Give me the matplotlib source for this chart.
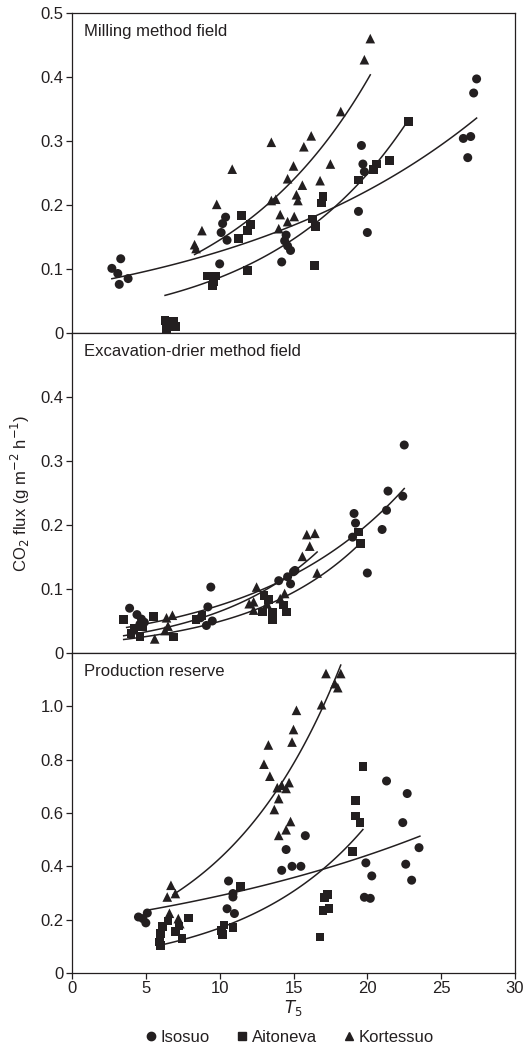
import numpy as np
import matplotlib
matplotlib.use("Agg")
import matplotlib.pyplot as plt
from matplotlib.lines import Line2D

plt.rcParams['font.family'] = ['Liberation Sans', 'DejaVu Sans']
ink = '#231f20'

# --- milling method field ---
mill_iso_t = [2.7, 3.3, 3.1, 3.2, 3.8, 10.4, 10.2, 10.1, 10.5, 10.0, 14.5, 14.4, 14.6, 14.8, 14.2,
              19.6, 19.7, 19.8, 19.4, 20.0, 27.4, 27.2, 26.5, 27.0, 26.8]
mill_iso_f = [0.101, 0.116, 0.093, 0.076, 0.085, 0.181, 0.171, 0.157, 0.145, 0.108, 0.153, 0.144, 0.136, 0.129, 0.111,
              0.293, 0.264, 0.252, 0.190, 0.157, 0.397, 0.375, 0.304, 0.307, 0.274]
mill_ait_t = [6.3, 6.9, 7.0, 6.4, 9.2, 9.7, 9.5, 9.6, 11.5, 12.1, 11.9, 11.3, 11.9, 17.0, 16.9, 16.3, 16.5, 16.4,
              19.4, 20.4, 20.6, 21.5, 22.8]
mill_ait_f = [0.020, 0.018, 0.010, 0.006, 0.089, 0.089, 0.074, 0.080, 0.184, 0.170, 0.160, 0.148, 0.098, 0.213, 0.203,
              0.178, 0.166, 0.106, 0.239, 0.255, 0.264, 0.269, 0.330]
mill_kor_t = [8.3, 8.4, 8.8, 9.8, 10.85, 13.5, 13.5, 13.8, 14.0, 14.1, 14.6, 14.6, 15.0, 15.05, 15.2, 15.3, 15.6,
              15.7, 16.2, 16.8, 17.5, 18.2, 19.8, 20.2]
mill_kor_f = [0.138, 0.132, 0.160, 0.201, 0.256, 0.298, 0.207, 0.209, 0.163, 0.185, 0.241, 0.174, 0.261, 0.182, 0.216,
              0.207, 0.231, 0.291, 0.308, 0.238, 0.264, 0.346, 0.427, 0.460]

# --- excavation-drier method field ---
exc_iso_t = [3.9, 4.4, 4.7, 4.9, 4.6, 8.7, 9.1, 9.2, 9.4, 9.5, 14.0, 14.6, 14.8, 15.0, 15.1, 19.0, 19.1, 19.2,
             20.0, 21.0, 21.3, 21.4, 22.4, 22.5]
exc_iso_f = [0.070, 0.060, 0.053, 0.048, 0.045, 0.055, 0.043, 0.072, 0.103, 0.050, 0.113, 0.119, 0.108, 0.127, 0.129,
             0.181, 0.218, 0.203, 0.125, 0.193, 0.223, 0.253, 0.245, 0.325]
exc_ait_t = [3.5, 4.0, 4.2, 4.6, 4.8, 5.5, 6.9, 8.4, 8.8, 12.9, 13.0, 13.3, 13.6, 13.6, 14.3, 14.5, 19.4, 19.55]
exc_ait_f = [0.052, 0.030, 0.038, 0.026, 0.041, 0.057, 0.025, 0.052, 0.058, 0.064, 0.090, 0.083, 0.064, 0.052,
             0.075, 0.064, 0.189, 0.171]
exc_kor_t = [5.6, 6.3, 6.5, 6.4, 6.8, 12.0, 12.3, 12.3, 12.5, 13.2, 14.1, 14.4, 15.6, 15.9, 16.1, 16.45, 16.6]
exc_kor_f = [0.022, 0.035, 0.042, 0.055, 0.059, 0.077, 0.067, 0.080, 0.103, 0.077, 0.085, 0.093, 0.151, 0.185,
             0.167, 0.187, 0.125]

# --- production reserve ---
prod_iso_t = [4.5, 4.8, 5.1, 5.0, 10.6, 10.9, 10.9, 10.5, 11.0, 14.2, 14.5, 14.9, 15.5, 15.8, 19.9, 20.3, 19.8,
              20.2, 21.3, 22.7, 22.4, 22.6, 23.0, 23.5]
prod_iso_f = [0.210, 0.204, 0.225, 0.188, 0.345, 0.298, 0.285, 0.241, 0.223, 0.385, 0.463, 0.400, 0.400, 0.515,
              0.413, 0.364, 0.284, 0.280, 0.720, 0.673, 0.564, 0.408, 0.348, 0.470]
prod_ait_t = [5.9, 6.0, 6.0, 6.15, 6.5, 7.0, 7.25, 7.45, 7.9, 10.1, 10.2, 10.3, 10.9, 11.4, 16.8, 17.0, 17.1, 17.3,
              17.4, 19.0, 19.2, 19.5, 19.2, 19.7]
prod_ait_f = [0.116, 0.104, 0.148, 0.173, 0.195, 0.157, 0.176, 0.129, 0.206, 0.158, 0.145, 0.180, 0.172, 0.325,
              0.135, 0.233, 0.283, 0.295, 0.241, 0.456, 0.589, 0.564, 0.648, 0.775]
prod_kor_t = [6.7, 6.45, 7.0, 6.6, 7.2, 7.3, 13.0, 13.3, 13.4, 13.7, 13.9, 14.0, 14.0, 14.2, 14.5, 14.5, 14.7, 14.8,
              14.9, 15.0, 15.2, 16.9, 17.2, 17.8, 18.0, 18.2]
prod_kor_f = [0.329, 0.285, 0.298, 0.224, 0.204, 0.185, 0.783, 0.855, 0.738, 0.613, 0.695, 0.654, 0.516, 0.704,
              0.692, 0.537, 0.714, 0.568, 0.866, 0.913, 0.985, 1.006, 1.123, 1.085, 1.070, 1.123]

# exponential fits: flux = a*exp(b*T), drawn over [t0, t1]
mill_fits = [(0.073, 0.0557, 2.7, 27.4), (0.0303, 0.1052, 6.3, 22.6), (0.0534, 0.1001, 8.3, 20.2)]
exc_fits = [(0.0277, 0.099, 3.7, 22.5), (0.01334, 0.1308, 3.5, 19.5), (0.01684, 0.1348, 3.5, 16.6)]
prod_fits = [(0.190, 0.04217, 5.0, 23.56), (0.0510, 0.1196, 5.96, 19.7), (0.1286, 0.1206, 6.86, 18.2)]

sites = ['Isosuo', 'Aitoneva', 'Kortessuo']
markers = ['o', 's', '^']
msize = [42, 40, 48]

panels = [
    ('Milling method field', [(mill_iso_t, mill_iso_f), (mill_ait_t, mill_ait_f), (mill_kor_t, mill_kor_f)],
     mill_fits, 0.5, [0, 0.1, 0.2, 0.3, 0.4, 0.5], ['0', '0.1', '0.2', '0.3', '0.4', '0.5']),
    ('Excavation-drier method field', [(exc_iso_t, exc_iso_f), (exc_ait_t, exc_ait_f), (exc_kor_t, exc_kor_f)],
     exc_fits, 0.5, [0, 0.1, 0.2, 0.3, 0.4], ['0', '0.1', '0.2', '0.3', '0.4']),
    ('Production reserve', [(prod_iso_t, prod_iso_f), (prod_ait_t, prod_ait_f), (prod_kor_t, prod_kor_f)],
     prod_fits, 1.2, [0, 0.2, 0.4, 0.6, 0.8, 1.0], ['0', '0.2', '0.4', '0.6', '0.8', '1.0']),
]

fig = plt.figure(figsize=(5.26, 10.52), dpi=100)
left, width = 72 / 526, 443 / 526
tops = [13, 333, 653]
h = 320

axes = []
for i, (title, data, fits, ymax, yt, ytl) in enumerate(panels):
    ax = fig.add_axes([left, 1 - (tops[i] + h) / 1052, width, h / 1052])
    for (t, f), m, s in zip(data, markers, msize):
        ax.scatter(t, f, marker=m, s=s, color=ink, edgecolors='none', zorder=3)
    for a, b, t0, t1 in fits:
        xx = np.linspace(t0, t1, 100)
        ax.plot(xx, a * np.exp(b * xx), color=ink, lw=1.1, zorder=2)
    ax.set_xlim(0, 30)
    ax.set_ylim(0, ymax)
    ax.set_yticks(yt)
    ax.set_yticklabels(ytl)
    ax.set_xticks([0, 5, 10, 15, 20, 25, 30])
    if i < 2:
        ax.set_xticklabels([])
    ax.tick_params(direction='out', length=4, width=0.9, labelsize=12, colors=ink, pad=2)
    for sp in ax.spines.values():
        sp.set_color(ink)
        sp.set_linewidth(0.9)
    ax.text(0.027, 0.965, title, transform=ax.transAxes, fontsize=12, color=ink, va='top', ha='left')
    axes.append(ax)

axes[1].set_ylabel('CO$_2$ flux (g m$^{-2}$ h$^{-1}$)', fontsize=12, color=ink, labelpad=6)
axes[2].set_xlabel('$T_5$', fontsize=12, color=ink, labelpad=1)

handles = [Line2D([], [], marker=m, ls='none', color=ink, markersize=6) for m in markers]
fig.legend(handles, sites, loc='center', bbox_to_anchor=(0.548, 0.014), ncol=3, frameon=False,
           fontsize=12, handletextpad=0.1, columnspacing=1.4, handlelength=1.0, labelcolor=ink)

fig.savefig('out.png', dpi=100)
